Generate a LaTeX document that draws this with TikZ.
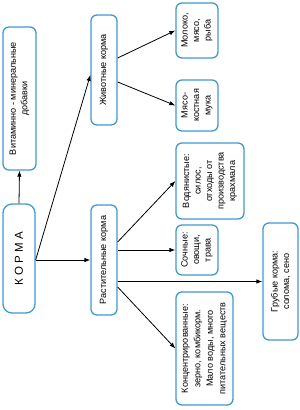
\documentclass[tikz,border=0pt]{standalone}
\usepackage{fontspec}
\setmainfont{Liberation Sans}
\newfontfamily\spacedfont[LetterSpace=30]{Liberation Sans}
\usetikzlibrary{arrows.meta}
\definecolor{boxblue}{HTML}{3F9BCF}
\begin{document}
\begin{tikzpicture}[x=1pt,y=-1pt,
  box/.style={draw=boxblue, line width=1.3pt, rounded corners=6pt, rotate=90,
    align=center, inner sep=1pt, font=\fontsize{9.1}{11.5}\selectfont},
  arr/.style={-{Latex[length=6pt,width=4.5pt]}, line width=0.8pt}]
\fill[white] (0,0) rectangle (300,410);
\useasboundingbox (0,0) rectangle (300,410);
\node[box, minimum width=143pt, minimum height=33pt] (vit) at (19.5,98.5) {Витаминно - минеральные\\добавки};
\node[box, rounded corners=9pt, minimum width=109pt, minimum height=32pt, font=\fontsize{11.5}{13}\spacedfont] (korma) at (19,258.5) {КОРМА};
\node[box, minimum width=110pt, minimum height=26pt] (ziv) at (104,70) {Животные корма};
\node[box, minimum width=110pt, minimum height=26pt] (rast) at (104,260) {Растительные корма};
\node[box, minimum width=55pt, minimum height=42pt] (mol) at (197,30.5) {Молоко,\\мясо,\\рыба};
\node[box, minimum width=51pt, minimum height=42pt] (myaso) at (197,105.5) {Мясо-\\костная\\мука};
\node[box, minimum width=76pt, minimum height=68pt] (vod) at (210,181) {Водянистые:\\силос,\\отходы от\\производства\\крахмала};
\node[box, minimum width=50pt, minimum height=42pt] (soch) at (197,250) {Сочные:\\овощи,\\трава};
\node[box, minimum width=117pt, minimum height=35pt] (grub) at (280.5,281.5) {Грубые корма:\\солома, сено};
\node[box, minimum width=113pt, minimum height=57pt, font=\fontsize{9.1}{12.5}\selectfont] (konc) at (204.5,348.5) {Концентрированные:\\зерно, комбикорм.\\Мало воды, много\\питательных веществ};
\coordinate (ks) at (korma.south |- rast.north);
\draw[arr] (korma.east) -- (vit.west);
\draw[arr] (ks) -- ([yshift=-5pt]ziv.north);
\draw[arr] (ks) -- (rast.north);
\draw[arr] ([yshift=12pt]ziv.south) -- (mol.north);
\draw[arr] ([yshift=-12pt]ziv.south) -- (myaso.north);
\draw[arr] ([yshift=18pt]rast.south) -- (vod.north);
\draw[arr] ([yshift=10pt]rast.south) -- (soch.north);
\draw[arr] ([yshift=-21.5pt]rast.south) -- (grub.north);
\draw[arr] ([yshift=-27pt]rast.south) -- (konc.north);
\end{tikzpicture}
\end{document}
